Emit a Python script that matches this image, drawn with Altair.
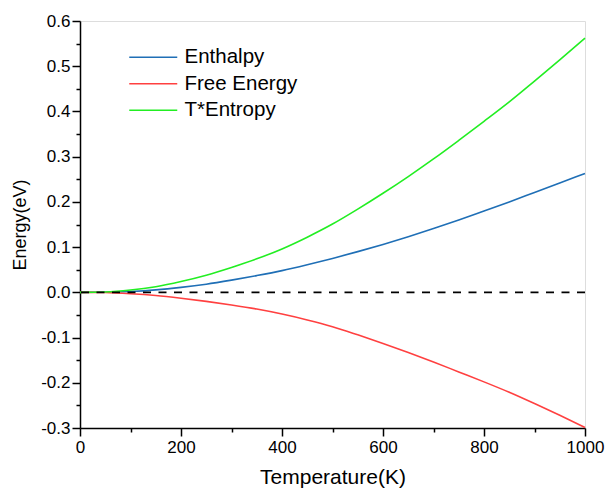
import altair as alt
import pandas as pd

temperature = [0, 50, 100, 150, 200, 250, 300, 350, 400, 450, 500, 550, 600,
               650, 700, 750, 800, 850, 900, 950, 1000]
enthalpy = [0, 0.0003, 0.002, 0.0055, 0.011, 0.018, 0.027, 0.037, 0.048, 0.061,
            0.075, 0.090, 0.106, 0.123, 0.141, 0.160, 0.180, 0.200, 0.221, 0.242, 0.263]
free_energy = [0, -0.0005, -0.003, -0.007, -0.013, -0.020, -0.028, -0.037, -0.048,
               -0.061, -0.076, -0.094, -0.113, -0.133, -0.154, -0.176, -0.198,
               -0.221, -0.246, -0.272, -0.299]
t_entropy = [0, 0.0008, 0.005, 0.0125, 0.024, 0.038, 0.055, 0.074, 0.096, 0.122,
             0.151, 0.184, 0.219, 0.256, 0.295, 0.336, 0.378, 0.421, 0.467, 0.514, 0.562]

series_names = ["Enthalpy", "Free Energy", "T*Entropy"]
series_colors = ["#1f6fb6", "#ff4040", "#22ee22"]

rows = []
for name, vals in zip(series_names, [enthalpy, free_energy, t_entropy]):
    for t, v in zip(temperature, vals):
        rows.append({"T": t, "E": v, "series": name})
df = pd.DataFrame(rows)

FONT = "Liberation Sans"

x_scale = alt.Scale(domain=[0, 1000], nice=False)
y_scale = alt.Scale(domain=[-0.3, 0.6], nice=False)

x_axis = alt.Axis(values=[0, 200, 400, 600, 800, 1000], title="Temperature(K)",
                  format="d", orient="bottom",
                  tickSize=8, tickWidth=1.5, tickColor="black", domainColor="black",
                  domainWidth=1.5, labelFontSize=17, titleFontSize=21, labelFont=FONT,
                  titleFont=FONT, titleFontWeight="normal", labelColor="black",
                  titleColor="black", grid=False, labelPadding=3, titlePadding=11,
                  labelFlush=False)
y_axis = alt.Axis(values=[-0.3, -0.2, -0.1, 0.0, 0.1, 0.2, 0.3, 0.4, 0.5, 0.6],
                  title="Energy(eV)", orient="left",
                  labelExpr="replace(format(datum.value, '.1f'), '\u2212', '-')",
                  tickSize=8, tickWidth=1.5, tickColor="black", domainColor="black",
                  domainWidth=1.5, labelFontSize=17, titleFontSize=18, labelFont=FONT,
                  titleFont=FONT, titleFontWeight="normal", labelColor="black",
                  titleColor="black", grid=False, labelPadding=2, titlePadding=11,
                  labelFlush=False)

lines = alt.Chart(df).mark_line(strokeWidth=1.6, interpolate="monotone").encode(
    x=alt.X("T:Q", scale=x_scale, axis=x_axis),
    y=alt.Y("E:Q", scale=y_scale, axis=y_axis),
    color=alt.Color("series:N",
                    scale=alt.Scale(domain=series_names, range=series_colors),
                    legend=alt.Legend(orient="none", legendX=47, legendY=26, title=None,
                                      symbolType="M-1,0L5,0", symbolSize=256,
                                      symbolStrokeWidth=1.6, labelFontSize=20.5,
                                      labelFont=FONT, labelColor="black",
                                      labelOffset=37, rowPadding=5.5)),
)

zero = alt.Chart(pd.DataFrame({"y": [0]})).mark_rule(
    color="black", strokeDash=[8, 7.5], strokeWidth=1.8
).encode(y=alt.Y("y:Q", scale=y_scale, axis=None))

minor_x = alt.Chart(pd.DataFrame({"T": [0]})).mark_point(opacity=0).encode(
    x=alt.X("T:Q", scale=x_scale,
            axis=alt.Axis(values=[100, 300, 500, 700, 900], labels=False, title=None,
                          tickSize=4, tickWidth=1.5, tickColor="black", domain=False,
                          grid=False, orient="bottom")),
)
minor_y = alt.Chart(pd.DataFrame({"E": [0]})).mark_point(opacity=0).encode(
    y=alt.Y("E:Q", scale=y_scale,
            axis=alt.Axis(values=[-0.25, -0.15, -0.05, 0.05, 0.15, 0.25, 0.35, 0.45, 0.55],
                          labels=False, title=None, tickSize=4, tickWidth=1.5,
                          tickColor="black", domain=False, grid=False, orient="left")),
)

chart = alt.layer(lines, zero, minor_x, minor_y).resolve_axis(
    x="independent", y="independent"
).properties(
    width=505, height=407,
    autosize=alt.AutoSizeParams(type="none"),
    padding={"left": 80, "top": 21, "right": 20, "bottom": 63},
).configure_view(stroke="black", strokeWidth=1.5).configure(background="white")

chart.save("out.html", embed_options={"renderer": "svg", "actions": False})
